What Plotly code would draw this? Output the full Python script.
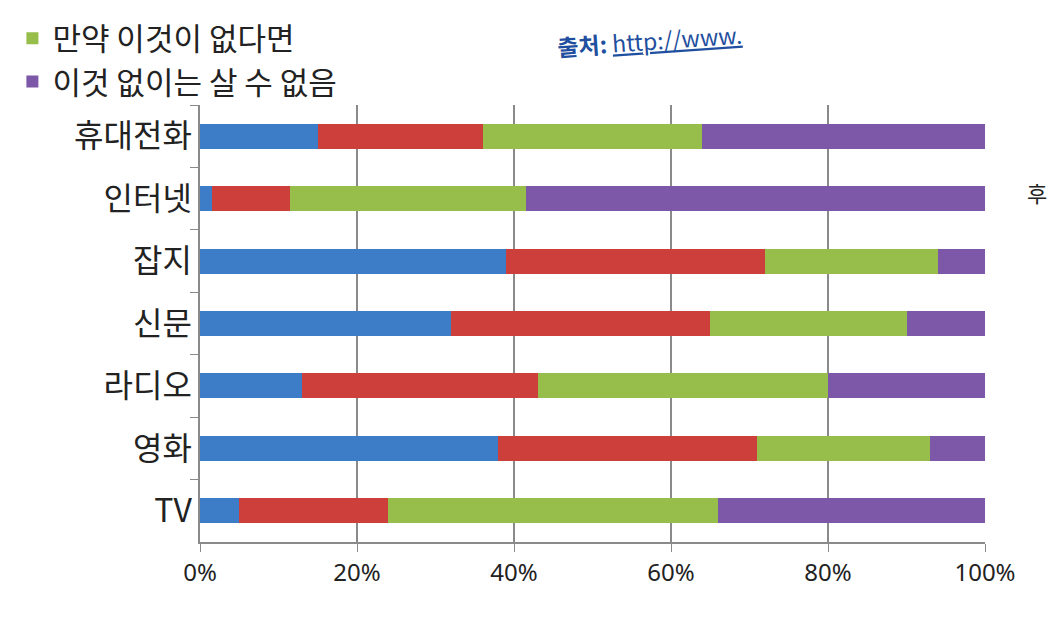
import plotly.graph_objects as go

categories = ["휴대전화", "인터넷", "잡지", "신문", "라디오", "영화", "TV"]

series_names = ["없어도 상관 없음", "있으면 좋음", "만약 이것이 없다면", "이것 없이는 살 수 없음"]
blue_vals = [15, 1.5, 39, 32, 13, 38, 5]
red_vals = [21, 10, 33, 33, 30, 33, 19]
green_vals = [28, 30, 22, 25, 37, 22, 42]
purple_vals = [36, 58.5, 6, 10, 20, 7, 34]

x_tick_vals = [0, 20, 40, 60, 80, 100]
x_tick_text = ["0%", "20%", "40%", "60%", "80%", "100%"]

colors = ["#3d7cc6", "#cc3f3a", "#97bd4a", "#7d58a8"]
show_leg = [False, False, True, True]

fig = go.Figure()
for name, vals, col, sl in zip(series_names, [blue_vals, red_vals, green_vals, purple_vals], colors, show_leg):
    fig.add_trace(go.Bar(
        y=categories, x=vals, name=name, orientation="h",
        marker=dict(color=col, line=dict(width=0)),
        showlegend=sl,
    ))

T, B, L, R = 84, 92, 190, 67
ph = 634 - T - B
pw = 1052 - L - R

fig.update_layout(
    width=1052, height=634,
    barmode="stack", bargap=0.6,
    paper_bgcolor="white", plot_bgcolor="white",
    margin=dict(l=L, r=R, t=T, b=B),
    font=dict(family="Noto Sans CJK KR, Noto Sans, sans-serif", color="#222222"),
    legend=dict(
        x=(0 - L) / pw, xanchor="left", y=1 + (T + 14) / ph, yanchor="top",
        font=dict(size=31, color="#222222"),
        traceorder="normal", itemsizing="constant",
        bgcolor="rgba(0,0,0,0)", tracegroupgap=0,
    ),
    xaxis=dict(
        range=[0, 100], tickvals=x_tick_vals, ticktext=x_tick_text,
        showgrid=True, gridcolor="#8a8a8a", gridwidth=1.5,
        showline=True, linecolor="#8a8a8a", linewidth=1.5,
        ticks="outside", ticklen=8, tickcolor="#8a8a8a",
        tickfont=dict(size=24, family="Noto Sans, sans-serif", color="#222222"),
        zeroline=False, fixedrange=True,
    ),
    yaxis=dict(
        categoryorder="array", categoryarray=categories, autorange="reversed",
        showline=True, linecolor="#8a8a8a", linewidth=1.5,
        ticks="outside", ticklen=8, tickcolor="#8a8a8a", tickson="boundaries",
        tickfont=dict(size=32, color="#222222"),
        showgrid=False, fixedrange=True,
    ),
    annotations=[
        dict(xref="paper", yref="paper", x=(548 - L) / pw, y=1 + (T - 16) / ph,
             xanchor="left", yanchor="middle", showarrow=False, textangle=-4,
             text="<b>출처:</b> <u>http://www.</u>",
             font=dict(size=23, color="#1f4f9e")),
        dict(xref="paper", yref="paper", x=(1026 - L) / pw, y=1 - (175 - T) / ph,
             xanchor="left", yanchor="middle", showarrow=False,
             text="후", font=dict(size=22, color="#222222")),
    ],
)

fig.write_html("out.html")
